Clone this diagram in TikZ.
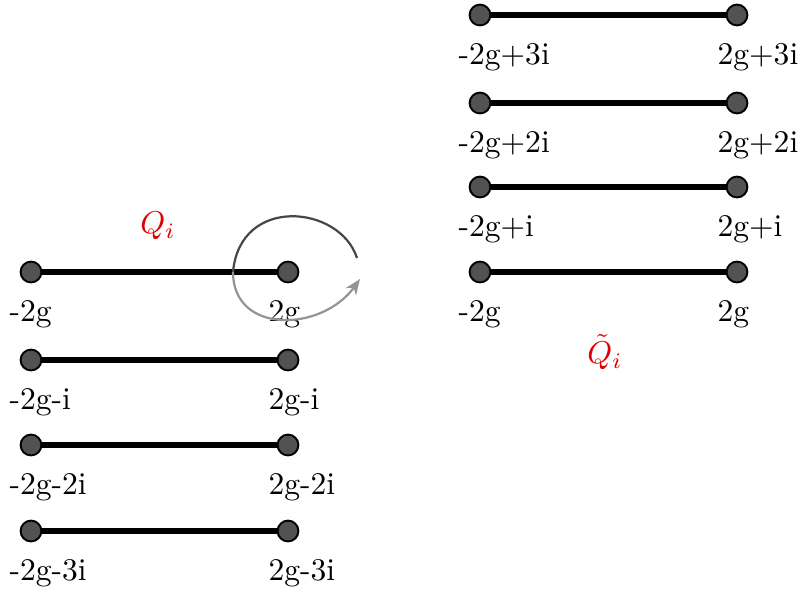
\documentclass[tikz,border=0pt]{standalone}
\usepackage{xcolor}
\usetikzlibrary{arrows.meta, positioning, calc}

\begin{document}
\begin{tikzpicture}[x=0.01114cm, y=-0.01114cm,
    dot/.style={circle, draw=black, fill=black!68, line width=0.6pt, minimum size=6.6pt, inner sep=0pt},
    cut/.style={line width=1.6pt},
    lbl/.style={anchor=north west, inner sep=0pt}]
    \useasboundingbox (0,0) rectangle (799,590);
    % cuts on the left
    \foreach \y/\s/\n in {272//l0, 360/-i/l1, 445/-2i/l2, 531/-3i/l3} {
        \node[dot] (\n a) at (31,\y) {};
        \node[dot] (\n b) at (288,\y) {};
        \draw[cut] (\n a) -- (\n b);
        \node[lbl] (\n x) at ($(\n a)+(-22,28)$) {-2g\s};
        \node[lbl] (\n y) at ($(\n b)+(-20,28)$) {2g\s};
    }
    % cuts on the right
    \foreach \y/\s/\n in {15/+3i/r3, 103/+2i/r2, 187/+i/r1, 272//r0} {
        \node[dot] (\n a) at (480,\y) {};
        \node[dot] (\n b) at (737,\y) {};
        \draw[cut] (\n a) -- (\n b);
        \node[lbl] (\n x) at ($(\n a)+(-22,28)$) {-2g\s};
        \node[lbl] (\n y) at ($(\n b)+(-20,28)$) {2g\s};
    }
    \node[red!88!black] (q) at (158,226) {$Q_i$};
    \node[red!88!black] (qt) at (605,352) {$\tilde{Q}_i$};
    % loop around 2g
    \coordinate (cs) at (357,258);
    \coordinate (cm) at (233,272);
    \coordinate (ce) at (360,279);
    \draw[black!72, line width=0.7pt] (cs) .. controls (340,205) and (240,195) .. (cm);
    \draw[black!42, line width=0.7pt, -{Stealth[length=5pt, width=4pt]}]
        (cm) .. controls (233,335) and (322,332) .. (ce);
\end{tikzpicture}
\end{document}
